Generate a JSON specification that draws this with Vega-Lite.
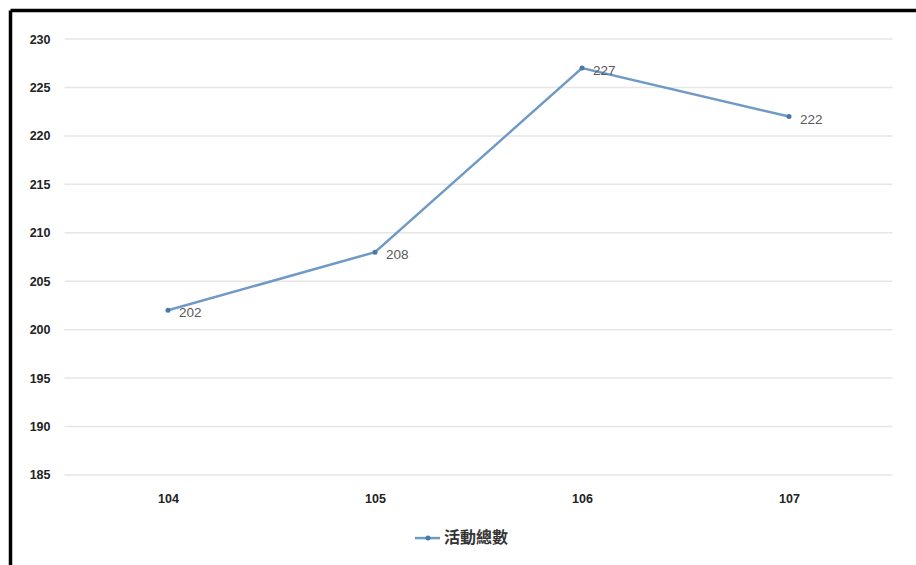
{
  "$schema": "https://vega.github.io/schema/vega-lite/v6.json",
  "width": 906,
  "height": 555,
  "autosize": {"type": "none"},
  "padding": {"left": 10, "top": 10, "right": 0, "bottom": 0},
  "background": "white",
  "config": {
    "view": {"stroke": null},
    "axis": {"labelFont": "Liberation Sans", "labelFontWeight": "bold", "labelFontSize": 12.5, "labelColor": "#222222", "title": null}
  },
  "datasets": {
    "main": [
      {"year": 104, "count": 202},
      {"year": 105, "count": 208},
      {"year": 106, "count": 227},
      {"year": 107, "count": 222}
    ],
    "grid": [
      {"v": 185}, {"v": 190}, {"v": 195}, {"v": 200}, {"v": 205}, {"v": 210},
      {"v": 215}, {"v": 220}, {"v": 225}, {"v": 230}
    ],
    "legend": [{"series": "活動總數"}]
  },
  "layer": [
    {
      "data": {"name": "grid"},
      "mark": {"type": "rule", "color": "#E6E6E6", "strokeWidth": 1.5},
      "encoding": {
        "y": {"field": "v", "type": "quantitative", "scale": {"domain": [175.7, 233.0], "nice": false, "zero": false},
          "axis": {"orient": "left", "offset": -42, "values": [185, 190, 195, 200, 205, 210, 215, 220, 225, 230], "format": "d", "domain": false, "ticks": false, "tickSize": 0, "grid": false, "labelPadding": 2}},
        "x": {"datum": 103.5, "type": "quantitative", "scale": {"domain": [103.2367, 107.6135], "nice": false, "zero": false}, "axis": null},
        "x2": {"datum": 107.5}
      }
    },
    {
      "data": {"name": "main"},
      "mark": {"type": "line", "color": "#6E9AC5", "strokeWidth": 2.5},
      "encoding": {
        "x": {"field": "year", "type": "quantitative", "scale": {"domain": [103.2367, 107.6135], "nice": false, "zero": false},
          "axis": {"orient": "top", "labels": false, "ticks": false, "grid": false, "domainColor": "#000000", "domainWidth": 3.5}},
        "y": {"field": "count", "type": "quantitative", "scale": {"domain": [175.7, 233.0], "nice": false, "zero": false},
          "axis": {"orient": "left", "labels": false, "ticks": false, "grid": false, "domainColor": "#000000", "domainWidth": 3.5}}
      }
    },
    {
      "data": {"name": "main"},
      "mark": {"type": "point", "filled": true, "color": "#4A78A8", "size": 25, "opacity": 1},
      "encoding": {
        "x": {"field": "year", "type": "quantitative", "scale": {"domain": [103.2367, 107.6135], "nice": false, "zero": false},
          "axis": {"orient": "bottom", "offset": -67, "values": [104, 105, 106, 107], "format": "d", "domain": false, "ticks": false, "tickSize": 0, "grid": false, "labelPadding": 0, "labelBaseline": "middle"}},
        "y": {"field": "count", "type": "quantitative", "scale": {"domain": [175.7, 233.0], "nice": false, "zero": false}, "axis": null}
      }
    },
    {
      "data": {"name": "main"},
      "mark": {"type": "text", "align": "left", "baseline": "middle", "dx": 11, "dy": 3, "font": "Liberation Sans", "fontSize": 13.5, "color": "#595959"},
      "encoding": {
        "x": {"field": "year", "type": "quantitative", "axis": null},
        "y": {"field": "count", "type": "quantitative", "axis": null},
        "text": {"field": "count", "type": "quantitative", "format": "d"}
      }
    },
    {
      "data": {"name": "legend"},
      "mark": {"type": "rule", "color": "#6E9AC5", "strokeWidth": 2.5},
      "encoding": {
        "x": {"datum": 105.193, "type": "quantitative", "axis": null},
        "x2": {"datum": 105.314},
        "y": {"datum": 178.48, "type": "quantitative", "axis": null}
      }
    },
    {
      "data": {"name": "legend"},
      "mark": {"type": "point", "filled": true, "color": "#4A78A8", "size": 25, "opacity": 1},
      "encoding": {
        "x": {"datum": 105.256, "type": "quantitative", "axis": null},
        "y": {"datum": 178.48, "type": "quantitative", "axis": null}
      }
    },
    {
      "data": {"name": "legend"},
      "mark": {"type": "text", "align": "left", "baseline": "middle", "font": "Noto Sans CJK TC", "fontSize": 16, "fontWeight": "bold", "color": "#333333"},
      "encoding": {
        "x": {"datum": 105.333, "type": "quantitative", "axis": null},
        "y": {"datum": 178.48, "type": "quantitative", "axis": null},
        "text": {"field": "series"}
      }
    }
  ],
  "resolve": {"axis": {"x": "independent", "y": "independent"}}
}
